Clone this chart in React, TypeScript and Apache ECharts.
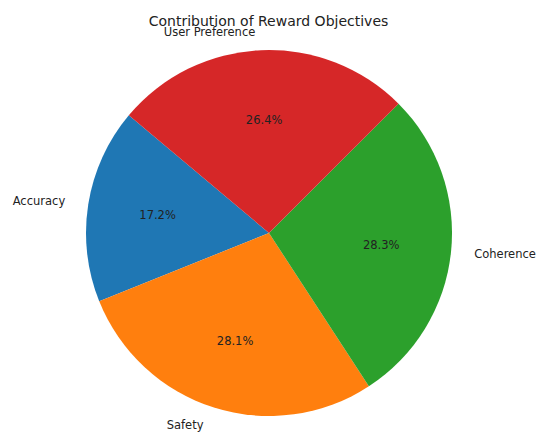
import React, { useEffect, useRef } from "react";
import * as echarts from "echarts";

const categories = ["Accuracy", "Safety", "Coherence", "User Preference"];
const shares = [17.2, 28.1, 28.3, 26.4];
const colors = ["#1f77b4", "#ff7f0e", "#2ca02c", "#d62728"];
const titleText = "Contribution of Reward Objectives";

const CX = 269;
const CY = 233;
const R = 183;
const FONT = "DejaVu Sans, sans-serif";

export default function App() {
  const ref = useRef<HTMLDivElement>(null);
  useEffect(() => {
    document.body.style.margin = "0";
    const chart = echarts.init(ref.current!, null, { renderer: "svg" });
    const data = categories.map((name, i) => ({
      name,
      value: shares[i],
      itemStyle: { color: colors[i] },
    }));
    chart.setOption({
      animation: false,
      backgroundColor: "#ffffff",
      title: {
        text: titleText,
        left: "center",
        top: 9,
        textStyle: {
          fontFamily: FONT,
          fontSize: 14,
          fontWeight: "normal",
          color: "#222",
        },
      },
      series: [
        {
          type: "pie",
          center: [CX, CY],
          radius: [0, R],
          startAngle: 140,
          clockwise: false,
          avoidLabelOverlap: false,
          silent: true,
          data,
          label: {
            show: true,
            position: "outside",
            formatter: "{b}",
            fontFamily: FONT,
            fontSize: 11.5,
            color: "#222",
          },
          labelLine: { show: false, length: R * 0.1, length2: 0 },
        },
        {
          type: "pie",
          center: [CX, CY],
          radius: [0, R * 1.2],
          startAngle: 140,
          clockwise: false,
          silent: true,
          z: 3,
          data: data.map((d) => ({ ...d, itemStyle: { color: "rgba(0,0,0,0)" } })),
          label: {
            show: true,
            position: "inside",
            formatter: (p: any) => `${p.percent.toFixed(1)}%`,
            fontFamily: FONT,
            fontSize: 11.5,
            color: "#222",
          },
          labelLine: { show: false },
        },
      ],
    });
    return () => chart.dispose();
  }, []);
  return <div ref={ref} style={{ width: 537, height: 435 }} />;
}
